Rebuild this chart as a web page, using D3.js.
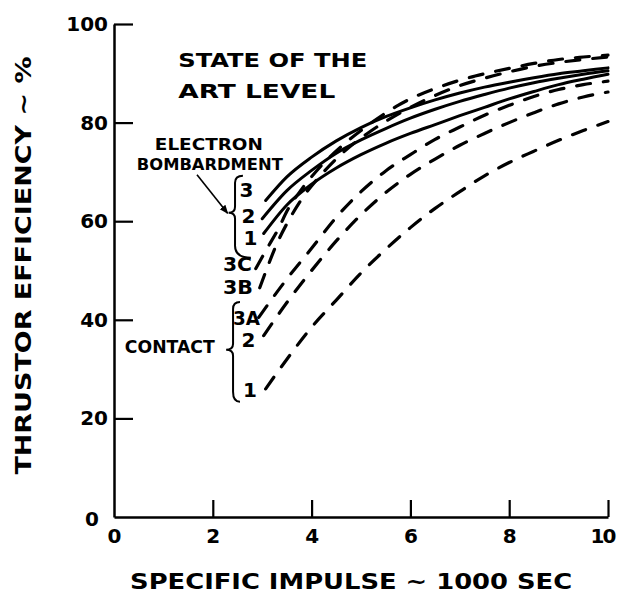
<!DOCTYPE html>
<html>
<head>
<meta charset="utf-8">
<script src="https://cdn.jsdelivr.net/npm/d3@7"></script>
<style>
    body { margin: 0; background: #fff; }
    #chart { width: 620px; height: 600px; }
    text { font-family: "DejaVu Sans", sans-serif; font-weight: bold; fill: #000; }
</style>
</head>
<body>
<div id="chart"></div>
<script>

// Axis ticks
const xTicks = [0, 2, 4, 6, 8, 10];
const yTicks = [0, 20, 40, 60, 80, 100];

// Electron bombardment thrustors (solid) - [specific impulse, efficiency]
const eb3Points = [[3.07, 64.2], [3.5, 69], [4, 73], [4.5, 76.3], [5, 79], [5.5, 81.2], [6, 83], [6.5, 84.6],
    [7, 86], [7.5, 87.2], [8, 88.2], [8.5, 89.1], [9, 89.9], [9.5, 90.5], [10, 91.1]];
const eb2Points = [[3.0, 60.5], [3.5, 66.2], [4, 70.3], [4.5, 73.8], [5, 76.5], [5.5, 78.8], [6, 80.9], [6.5, 82.7],
    [7, 84.3], [7.5, 85.7], [8, 87], [8.5, 88.1], [9, 89], [9.5, 89.8], [10, 90.5]];
const eb1Points = [[3.03, 57.5], [3.5, 63.3], [4, 67.5], [4.5, 70.8], [5, 73.5], [5.5, 75.8], [6, 77.8], [6.5, 79.6],
    [7, 81.4], [7.5, 83.1], [8, 84.8], [8.5, 86.3], [9, 87.7], [9.5, 88.8], [10, 89.8]];

// Contact thrustors (dashed)
const contact3CPoints = [[2.87, 50.4], [3.1, 54.5], [3.33, 58.5], [3.51, 62.2], [3.8, 66.5], [4.2, 71.3], [4.7, 76],
    [5.26, 80.3], [5.75, 83.5], [6.08, 85.2], [6.5, 86.9], [7, 88.6], [7.5, 89.9], [8, 91], [8.5, 92], [9, 92.8],
    [9.5, 93.3], [10, 93.7]];
const contact3BPoints = [[2.95, 46.5], [3.1, 50.5], [3.3, 55.5], [3.5, 59.5], [3.8, 64.5], [4.2, 69.5], [4.7, 74.5],
    [5.2, 78.3], [5.8, 82], [6.5, 85.5], [7, 87.5], [7.5, 89], [8, 90.3], [8.5, 91.4], [9, 92.2], [9.5, 92.8], [10, 93.3]];
const contact3APoints = [[2.93, 40.5], [3.5, 48.3], [4, 54.5], [4.5, 60.8], [5, 66], [5.5, 70.2], [6, 73.5], [6.5, 76.6],
    [7, 79.1], [7.5, 81.5], [8, 83.5], [8.5, 85.3], [9, 86.7], [9.5, 87.7], [10, 88.4]];
const contact2Points = [[3.03, 36.8], [3.5, 43.5], [4, 50], [4.5, 56], [5, 61.3], [5.5, 65.8], [6, 69.5], [6.5, 72.6],
    [7, 75.4], [7.5, 77.8], [8, 80], [8.5, 82], [9, 83.8], [9.5, 85.2], [10, 86.2]];
const contact1Points = [[3.07, 26], [3.5, 32], [4, 38.5], [4.5, 44], [5, 49.5], [5.5, 54.3], [6, 58.7], [6.5, 62.6],
    [7, 66], [7.5, 69.2], [8, 71.9], [8.5, 74.2], [9, 76.4], [9.5, 78.4], [10, 80.2]];


class EfficiencyChart {
    constructor(parentElement) {
        this.parentElement = parentElement;

        this.curves = [
            { name: "eb3", points: eb3Points, dashed: false },
            { name: "eb2", points: eb2Points, dashed: false },
            { name: "eb1", points: eb1Points, dashed: false },
            { name: "3C", points: contact3CPoints, dashed: true },
            { name: "3B", points: contact3BPoints, dashed: true },
            { name: "3A", points: contact3APoints, dashed: true },
            { name: "c2", points: contact2Points, dashed: true },
            { name: "c1", points: contact1Points, dashed: true }
        ];

        this.initVis();
    }

    initVis() {
        let vis = this;

        vis.margin = {top: 24, right: 12, bottom: 83, left: 114};
        vis.width = 620 - vis.margin.left - vis.margin.right;
        vis.height = 600 - vis.margin.top - vis.margin.bottom;

        vis.svg = d3.select("#" + vis.parentElement).append("svg")
            .attr("width", 620)
            .attr("height", 600)
            .append("g")
            .attr("transform", `translate(${vis.margin.left}, ${vis.margin.top})`);

        // Scales
        vis.x = d3.scaleLinear().domain([0, 10]).range([0, vis.width]);
        vis.y = d3.scaleLinear().domain([0, 100]).range([vis.height, 0]);

        // Axes (ticks point inward like the drawing)
        vis.xAxis = d3.axisBottom(vis.x)
            .tickValues(xTicks)
            .tickSize(-17)
            .tickSizeOuter(0)
            .tickPadding(12);
        vis.yAxis = d3.axisLeft(vis.y)
            .tickValues(yTicks)
            .tickSize(-19)
            .tickSizeOuter(0)
            .tickPadding(6);

        let gx = vis.svg.append("g")
            .attr("class", "x-axis")
            .attr("transform", `translate(0, ${vis.height})`)
            .call(vis.xAxis);
        let gy = vis.svg.append("g")
            .attr("class", "y-axis")
            .call(vis.yAxis);

        [gx, gy].forEach(g => {
            g.select(".domain").attr("stroke", "#000").attr("stroke-width", 2.5);
            g.selectAll(".tick line").attr("stroke", "#000").attr("stroke-width", 2.2);
            g.selectAll(".tick text")
                .attr("fill", "#000")
                .style("font-size", "20px")
                .style("font-family", "DejaVu Sans, sans-serif")
                .style("font-weight", "bold");
        });
        // The zero on the y axis sits a little left, the zero tick lines are hidden by the axes
        gy.selectAll(".tick").filter(d => d === 0).select("text").attr("x", -15).attr("dy", "0.42em");
        gx.selectAll(".tick").filter(d => d === 0).select("line").remove();
        gy.selectAll(".tick").filter(d => d === 0).select("line").remove();
        // "10" is set tighter and kept inside the right edge
        gx.selectAll(".tick").filter(d => d === 10).select("text")
            .attr("x", -6)
            .style("letter-spacing", "-2px");

        // Axis titles
        vis.svg.append("text")
            .attr("x", vis.x(4.8))
            .attr("y", vis.height + 72)
            .attr("text-anchor", "middle")
            .attr("textLength", 442)
            .attr("lengthAdjust", "spacingAndGlyphs")
            .style("font-size", "22px")
            .text("SPECIFIC  IMPULSE ~ 1000 SEC");

        vis.svg.append("text")
            .attr("transform", `translate(${-vis.margin.left + 31}, ${vis.y(51)}) rotate(-90)`)
            .attr("text-anchor", "middle")
            .attr("textLength", 418)
            .attr("lengthAdjust", "spacingAndGlyphs")
            .style("font-size", "22px")
            .text("THRUSTOR EFFICIENCY ~ %");

        vis.updateVis();
    }

    updateVis() {
        let vis = this;

        vis.line = d3.line()
            .x(d => vis.x(d[0]))
            .y(d => vis.y(d[1]))
            .curve(d3.curveMonotoneX);

        vis.svg.selectAll(".curve")
            .data(vis.curves, d => d.name)
            .enter()
            .append("path")
            .attr("class", "curve")
            .attr("d", d => vis.line(d.points))
            .attr("fill", "none")
            .attr("stroke", "#000")
            .attr("stroke-width", d => d.dashed ? 3.2 : 3)
            .attr("stroke-linecap", "round")
            .attr("stroke-dasharray", d => d.dashed ? "14,13" : null);

        vis.drawAnnotations();
    }

    drawAnnotations() {
        let vis = this;

        let label = (txt, x, y, size, anchor, len) => {
            let t = vis.svg.append("text")
                .attr("x", vis.x(x))
                .attr("y", vis.y(y))
                .attr("text-anchor", anchor)
                .style("font-size", size + "px")
                .text(txt);
            if (len) t.attr("textLength", len).attr("lengthAdjust", "spacingAndGlyphs");
        };

        label("STATE OF THE", 1.30, 91.3, 19, "start", 189);
        label("ART LEVEL", 1.30, 85.0, 19, "start", 157);
        label("ELECTRON", 1.92, 74.5, 16, "middle", 108);
        label("BOMBARDMENT", 1.94, 70.3, 16, "middle", 146);
        label("CONTACT", 1.13, 33.3, 17, "middle", 90);

        // Curve labels
        label("3", 2.68, 65.0, 20, "middle");
        label("2", 2.72, 59.7, 20, "middle");
        label("1", 2.76, 55.2, 20, "middle");
        label("3C", 2.50, 50.0, 19, "middle", 29);
        label("3B", 2.51, 45.3, 19, "middle", 30);
        label("3A", 2.68, 39.0, 19, "middle", 27);
        label("2", 2.72, 34.5, 20, "middle");
        label("1", 2.75, 24.4, 20, "middle");

        // Braces
        let brace = (x, px, yTop, yMid, yBot, hTop, hBot, yHookBot) => {
            let X = vis.x(x), P = vis.x(px), T = vis.y(yTop), M = vis.y(yMid), B = vis.y(yBot);
            let HT = vis.x(hTop), HB = vis.x(hBot), YB = vis.y(yHookBot);
            return `M${HT},${T} Q${X},${T} ${X},${T + 7} L${X},${M - 6} Q${X},${M} ${P},${M}` +
                ` Q${X},${M} ${X},${M + 6} L${X},${B - 6} Q${X},${YB} ${HB},${YB}`;
        };
        vis.svg.append("path")
            .attr("d", brace(2.45, 2.32, 69.2, 61.7, 53.8, 2.61, 2.77, 52.6))
            .attr("fill", "none").attr("stroke", "#000").attr("stroke-width", 2);
        vis.svg.append("path")
            .attr("d", brace(2.41, 2.27, 43.6, 33.9, 24.2, 2.55, 2.55, 23.4))
            .attr("fill", "none").attr("stroke", "#000").attr("stroke-width", 2);

        // Arrow from the electron bombardment label to its brace
        vis.svg.append("defs").append("marker")
            .attr("id", "arrow")
            .attr("viewBox", "0 0 10 10")
            .attr("refX", 9).attr("refY", 5)
            .attr("markerWidth", 9).attr("markerHeight", 9)
            .attr("markerUnits", "userSpaceOnUse")
            .attr("orient", "auto")
            .append("path")
            .attr("d", "M0,1 L10,5 L0,9 Z")
            .attr("fill", "#000");
        vis.svg.append("line")
            .attr("x1", vis.x(1.68)).attr("y1", vis.y(69.4))
            .attr("x2", vis.x(2.30)).attr("y2", vis.y(61.6))
            .attr("stroke", "#000").attr("stroke-width", 1.6)
            .attr("marker-end", "url(#arrow)");
    }
}

new EfficiencyChart("chart");
</script>
</body>
</html>
